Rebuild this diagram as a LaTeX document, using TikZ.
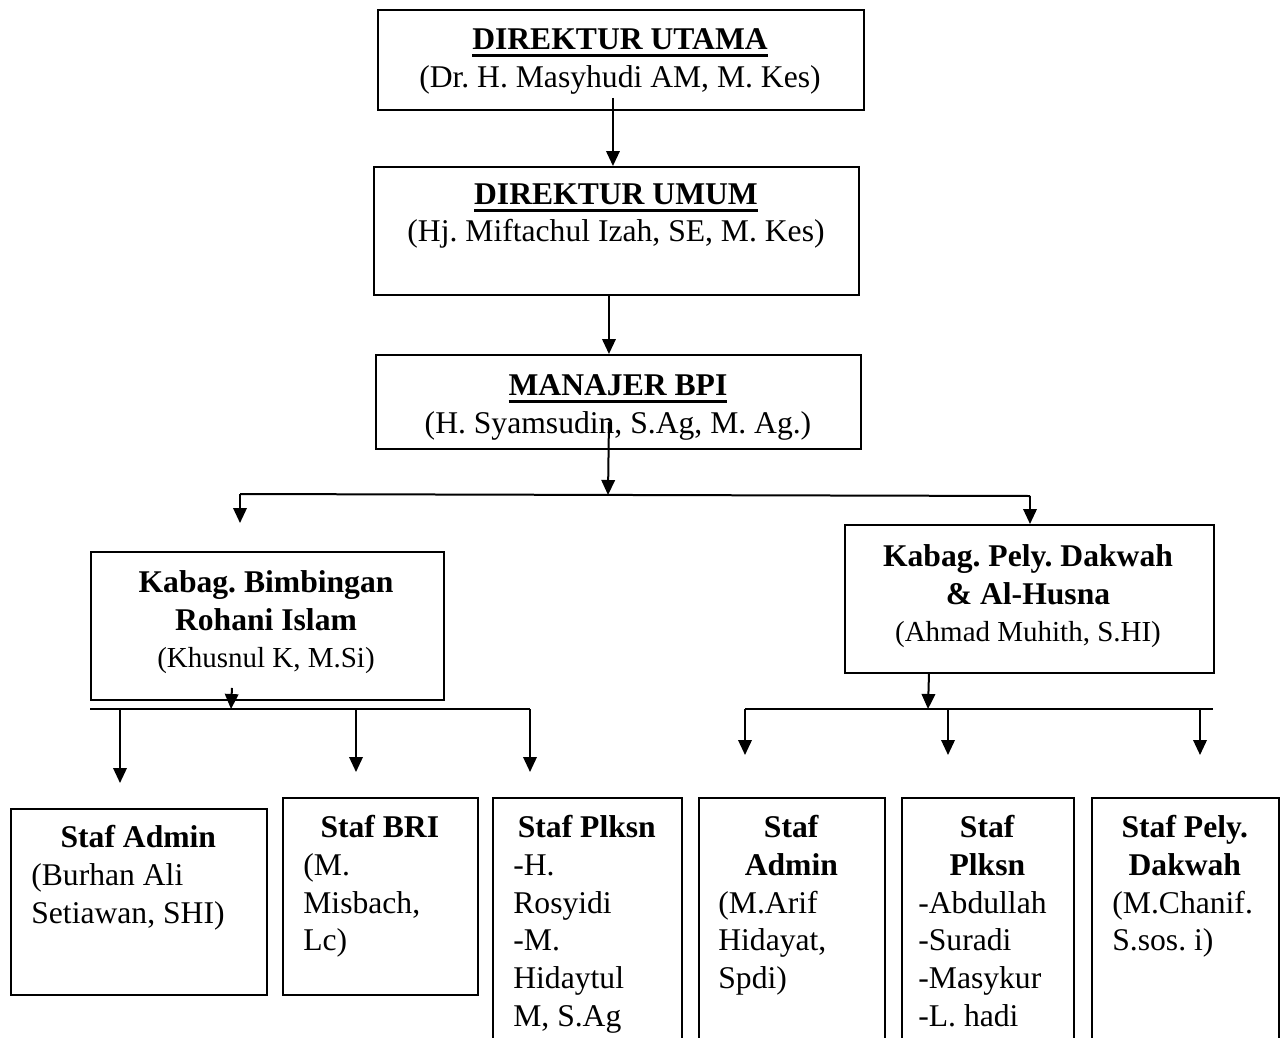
\documentclass[tikz,border=0pt]{standalone}
\usepackage{fontspec}
\setmainfont{Liberation Serif}
\usetikzlibrary{arrows.meta}
\frenchspacing

\tikzset{
    kotak/.style={draw, line width=0.04cm, inner sep=0pt, anchor=north west},
    isi/.style={inner sep=0pt, anchor=north, align=center},
    staf/.style={inner sep=0pt, anchor=north west, align=flush left},
    garis/.style={line width=0.04cm},
    panah/.style={line width=0.04cm, -{Triangle[width=0.27cm, length=0.3cm]}},
}
\newcommand{\judul}[1]{\setbox0\hbox{\textbf{#1}}\rlap{\rule[-0.15cm]{\wd0}{0.05cm}}\box0}
\newcommand{\nama}{\fontsize{16.5}{21}\selectfont}
\newcommand{\tengah}[1]{\makebox[\linewidth]{\textbf{#1}}}

\begin{document}
\begin{tikzpicture}[x=0.02cm, y=-0.02cm, font=\fontsize{18}{21.5}\selectfont]
    \useasboundingbox (0, 0) rectangle (1283, 1037);
    \clip (0, 0) rectangle (1283, 1037);

    % pimpinan
    \node[kotak, minimum width=9.72cm, minimum height=2cm] (utama) at (377, 9) {};
    \node[isi] (utamat) at (620, 28)
        {\judul{DIREKTUR UTAMA}\\(Dr. H. Masyhudi AM, M. Kes)};
    \node[kotak, minimum width=9.7cm, minimum height=2.56cm] (umum) at (373, 166) {};
    \node[isi] (umumt) at (616, 183)
        {\judul{DIREKTUR UMUM}\\(Hj. Miftachul Izah, SE, M. Kes)};
    \node[kotak, minimum width=9.7cm, minimum height=1.88cm] (manajer) at (375, 354) {};
    \node[isi] (manajert) at (618, 374)
        {\judul{MANAJER BPI}\\(H. Syamsudin, S.Ag, M. Ag.)};

    \draw[panah] ([shift={(-8, -13)}]utama.south) -- ([shift={(-3.5, 0)}]umum.north);
    \draw[panah] ([shift={(-7.5, 0)}]umum.south) -- ([shift={(-9.5, 0)}]manajer.north);

    % kabag
    \node[kotak, minimum width=7.06cm, minimum height=2.96cm] (bimb) at (90, 551) {};
    \node[isi] (bimbt) at (266, 570)
        {\textbf{Kabag. Bimbingan}\\\textbf{Rohani Islam}\\{\nama (Khusnul K, M.Si)}};
    \node[kotak, minimum width=7.38cm, minimum height=2.96cm] (pely) at (844, 524) {};
    \node[isi] (pelyt) at (1028, 544)
        {\textbf{Kabag. Pely. Dakwah}\\\textbf{\& Al-Husna}\\{\nama (Ahmad Muhith, S.HI)}};

    \coordinate (bus) at (608, 495);
    \coordinate (kiri) at (240, 494);
    \coordinate (kanan) at (1030, 496);
    \draw[panah] ([shift={(-9.5, -28)}]manajer.south) -- (bus);
    \draw[garis] (kiri) -- (kanan);
    \draw[panah] (kiri) -- ++(0, 29);
    \draw[panah] (kanan) -- (kanan |- pely.north);

    % staf
    \node[kotak, minimum width=5.12cm, minimum height=3.72cm] (adm1) at (10, 808) {};
    \node[staf, text width=4.28cm] (adm1t) at (31, 825)
        {\tengah{Staf Admin}\\(Burhan Ali\\Setiawan, SHI)};
    \node[kotak, minimum width=3.9cm, minimum height=3.94cm] (bri) at (282, 797) {};
    \node[staf, text width=3.06cm] (brit) at (303, 815)
        {\tengah{Staf BRI}\\(M.\\Misbach,\\Lc)};
    \node[kotak, minimum width=3.78cm, minimum height=6cm] (plk1) at (492, 797) {};
    \node[staf, text width=2.94cm] (plk1t) at (513, 815)
        {\tengah{Staf Plksn}\\-H.\\Rosyidi\\-M.\\Hidaytul\\M, S.Ag};
    \node[kotak, minimum width=3.72cm, minimum height=6cm] (adm2) at (698, 797) {};
    \node[staf, text width=2.92cm] (adm2t) at (718, 815)
        {\tengah{Staf}\\\tengah{Admin}\\(M.Arif\\Hidayat,\\Spdi)};
    \node[kotak, minimum width=3.44cm, minimum height=6cm] (plk2) at (901, 797) {};
    \node[staf, text width=2.76cm] (plk2t) at (918, 815)
        {\tengah{Staf}\\\tengah{Plksn}\\-Abdullah\\-Suradi\\-Masykur\\-L. hadi};
    \node[kotak, minimum width=3.74cm, minimum height=6cm] (pely2) at (1091, 797) {};
    \node[staf, text width=2.9cm] (pely2t) at (1112, 815)
        {\tengah{Staf Pely.}\\\tengah{Dakwah}\\(M.Chanif.\\S.sos. i)};

    \coordinate (b1) at (90, 709);
    \coordinate (b2) at (530, 709);
    \coordinate (c1) at (745, 709);
    \coordinate (c2) at (1213, 709);
    \draw[panah] ([shift={(-35.5, -13)}]bimb.south) -- (231, 0 |- b1);
    \draw[garis] (b1) -- (b2);
    \foreach \x/\t in {120/783, 356/772, 530/772}
        \draw[panah] (\x, 0 |- b1) -- (\x, \t);
    \draw[panah] ([shift={(-100.5, 0)}]pely.south) -- (928, 0 |- c1);
    \draw[garis] (c1) -- (c2);
    \foreach \x in {745, 948, 1200}
        \draw[panah] (\x, 0 |- c1) -- (\x, 755);
\end{tikzpicture}
\end{document}
